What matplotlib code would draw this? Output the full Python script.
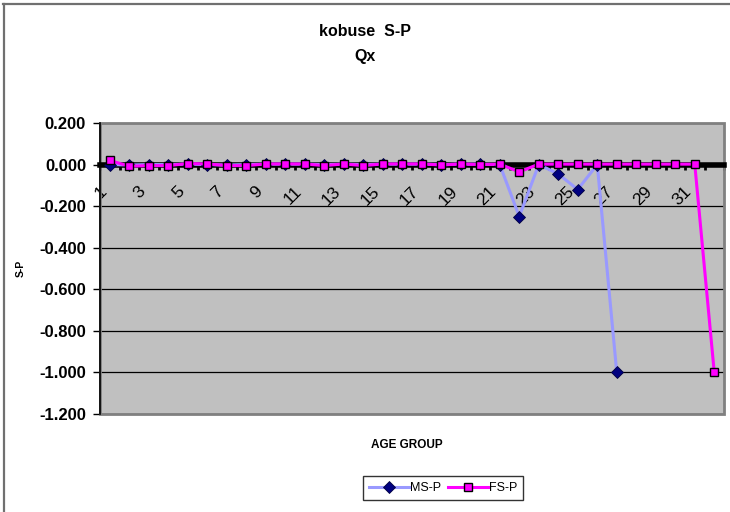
import numpy as np
import matplotlib
matplotlib.use("Agg")
import matplotlib.pyplot as plt
from matplotlib.transforms import ScaledTranslation
from matplotlib.patches import Rectangle
from matplotlib.lines import Line2D

plt.rcParams['font.family'] = ['Liberation Sans', 'DejaVu Sans']
plt.rcParams['axes.unicode_minus'] = False

# ---- data ----
age_groups = list(range(1, 33))
ms_p = [0.000, -0.002, 0.000, 0.000, 0.002, 0.000, -0.002, 0.000, 0.002, 0.002,
        0.002, 0.000, 0.002, 0.000, 0.002, 0.002, 0.002, 0.000, 0.002, 0.002,
        0.000, -0.250, 0.000, -0.045, -0.120, 0.000, -1.000,
        np.nan, np.nan, np.nan, np.nan, np.nan]
fs_p = [0.020, -0.008, -0.005, -0.005, 0.005, 0.003, -0.005, -0.005, 0.003, 0.003,
        0.003, -0.005, 0.003, -0.005, 0.003, 0.003, 0.003, -0.002, 0.003, 0.000,
        0.002, -0.035, 0.002, 0.002, 0.002, 0.002, 0.002, 0.002, 0.002, 0.002,
        0.002, -1.000]
y_ticks = [0.2, 0.0, -0.2, -0.4, -0.6, -0.8, -1.0, -1.2]
title_text = "kobuse  S-P\nQx"
x_label = "AGE GROUP"
y_label = "S-P"
series_names = ["MS-P", "FS-P"]

W, H = 730, 512
fig = plt.figure(figsize=(W / 100, H / 100), dpi=100)
fig.patch.set_facecolor('white')

ax = fig.add_axes([100 / W, 1 - 414 / H, 624 / W, (414 - 123) / H])
ax.set_facecolor('#C0C0C0')

x = np.array(age_groups)
ax.plot(x, ms_p, color='#9999FF', lw=2.2, marker='D', markersize=5.8,
        markerfacecolor='#000080', markeredgecolor='#000040', markeredgewidth=0.6,
        zorder=4, label=series_names[0])
ax.plot(x, fs_p, color='#FF00FF', lw=2.2, marker='s', markersize=6.4,
        markerfacecolor='#FF00FF', markeredgecolor='black', markeredgewidth=1.0,
        zorder=5, label=series_names[1])

ax.set_xlim(0.5, len(age_groups) + 0.5)
ax.set_ylim(min(y_ticks), max(y_ticks))

# y axis
ax.set_yticks(y_ticks)
ax.set_yticklabels([f"{v:.3f}" for v in y_ticks], fontsize=12, fontweight='bold')
ax.tick_params(axis='y', direction='out', length=5, width=1, color='black', pad=5)
ax.yaxis.grid(True, color='black', lw=0.9)
ax.set_axisbelow(True)

# x axis at y = 0
ax.spines['bottom'].set_position(('data', 0))
ax.spines['bottom'].set_linewidth(4)
ax.spines['bottom'].set_color('black')
ax.spines['bottom'].set_zorder(3)
ax.spines['top'].set_visible(False)
ax.spines['right'].set_visible(False)
ax.spines['left'].set_color('black')
ax.spines['left'].set_linewidth(1.2)

ax.set_xticks(x)
ax.set_xticklabels([str(a) if a % 2 == 1 else "" for a in age_groups],
                   fontsize=12.5, rotation=45, ha='right', va='top',
                   rotation_mode='anchor')
ax.set_xticks(np.arange(0.5, len(age_groups) + 1, 1.0), minor=True)
ax.tick_params(axis='x', which='major', length=0, pad=14)
ax.tick_params(axis='x', which='minor', direction='out', length=3.5, width=2,
               color='black')
off = ScaledTranslation(-8 / 72, 0, fig.dpi_scale_trans)
for lbl in ax.get_xticklabels():
    lbl.set_transform(lbl.get_transform() + off)

# plot area border
ax.add_patch(Rectangle((0, 0), 1, 1, transform=ax.transAxes, fill=False,
                       edgecolor='#808080', lw=2, clip_on=False, zorder=2))

# titles / labels
fig.text(365 / W, 1 - 32 / H, title_text.split("\n")[0], ha='center', va='center',
         fontsize=11.5, fontweight='bold')
fig.text(365 / W, 1 - 57 / H, title_text.split("\n")[1], ha='center', va='center',
         fontsize=11.5, fontweight='bold')
fig.text(407 / W, 1 - 445 / H, x_label, ha='center', va='center',
         fontsize=8.5, fontweight='bold')
fig.text(21 / W, 1 - 268 / H, y_label, ha='center', va='center', rotation=90,
         fontsize=7.5, fontweight='bold')

leg = fig.legend(loc='center', bbox_to_anchor=(443 / W, 1 - 488 / H), ncol=2,
                 frameon=True, fancybox=False, fontsize=9, handlelength=3.2,
                 columnspacing=0.5, handletextpad=0.1, borderpad=0.45)
leg.get_frame().set_edgecolor('black')
leg.get_frame().set_linewidth(1)

# outer chart border (top and left visible)
fig.add_artist(Line2D([3 / W, 1], [1 - 4 / H, 1 - 4 / H], color='#707070', lw=1.6))
fig.add_artist(Line2D([4 / W, 4 / W], [0, 1 - 4 / H], color='#707070', lw=1.6))

fig.savefig("out.png", dpi=100)
